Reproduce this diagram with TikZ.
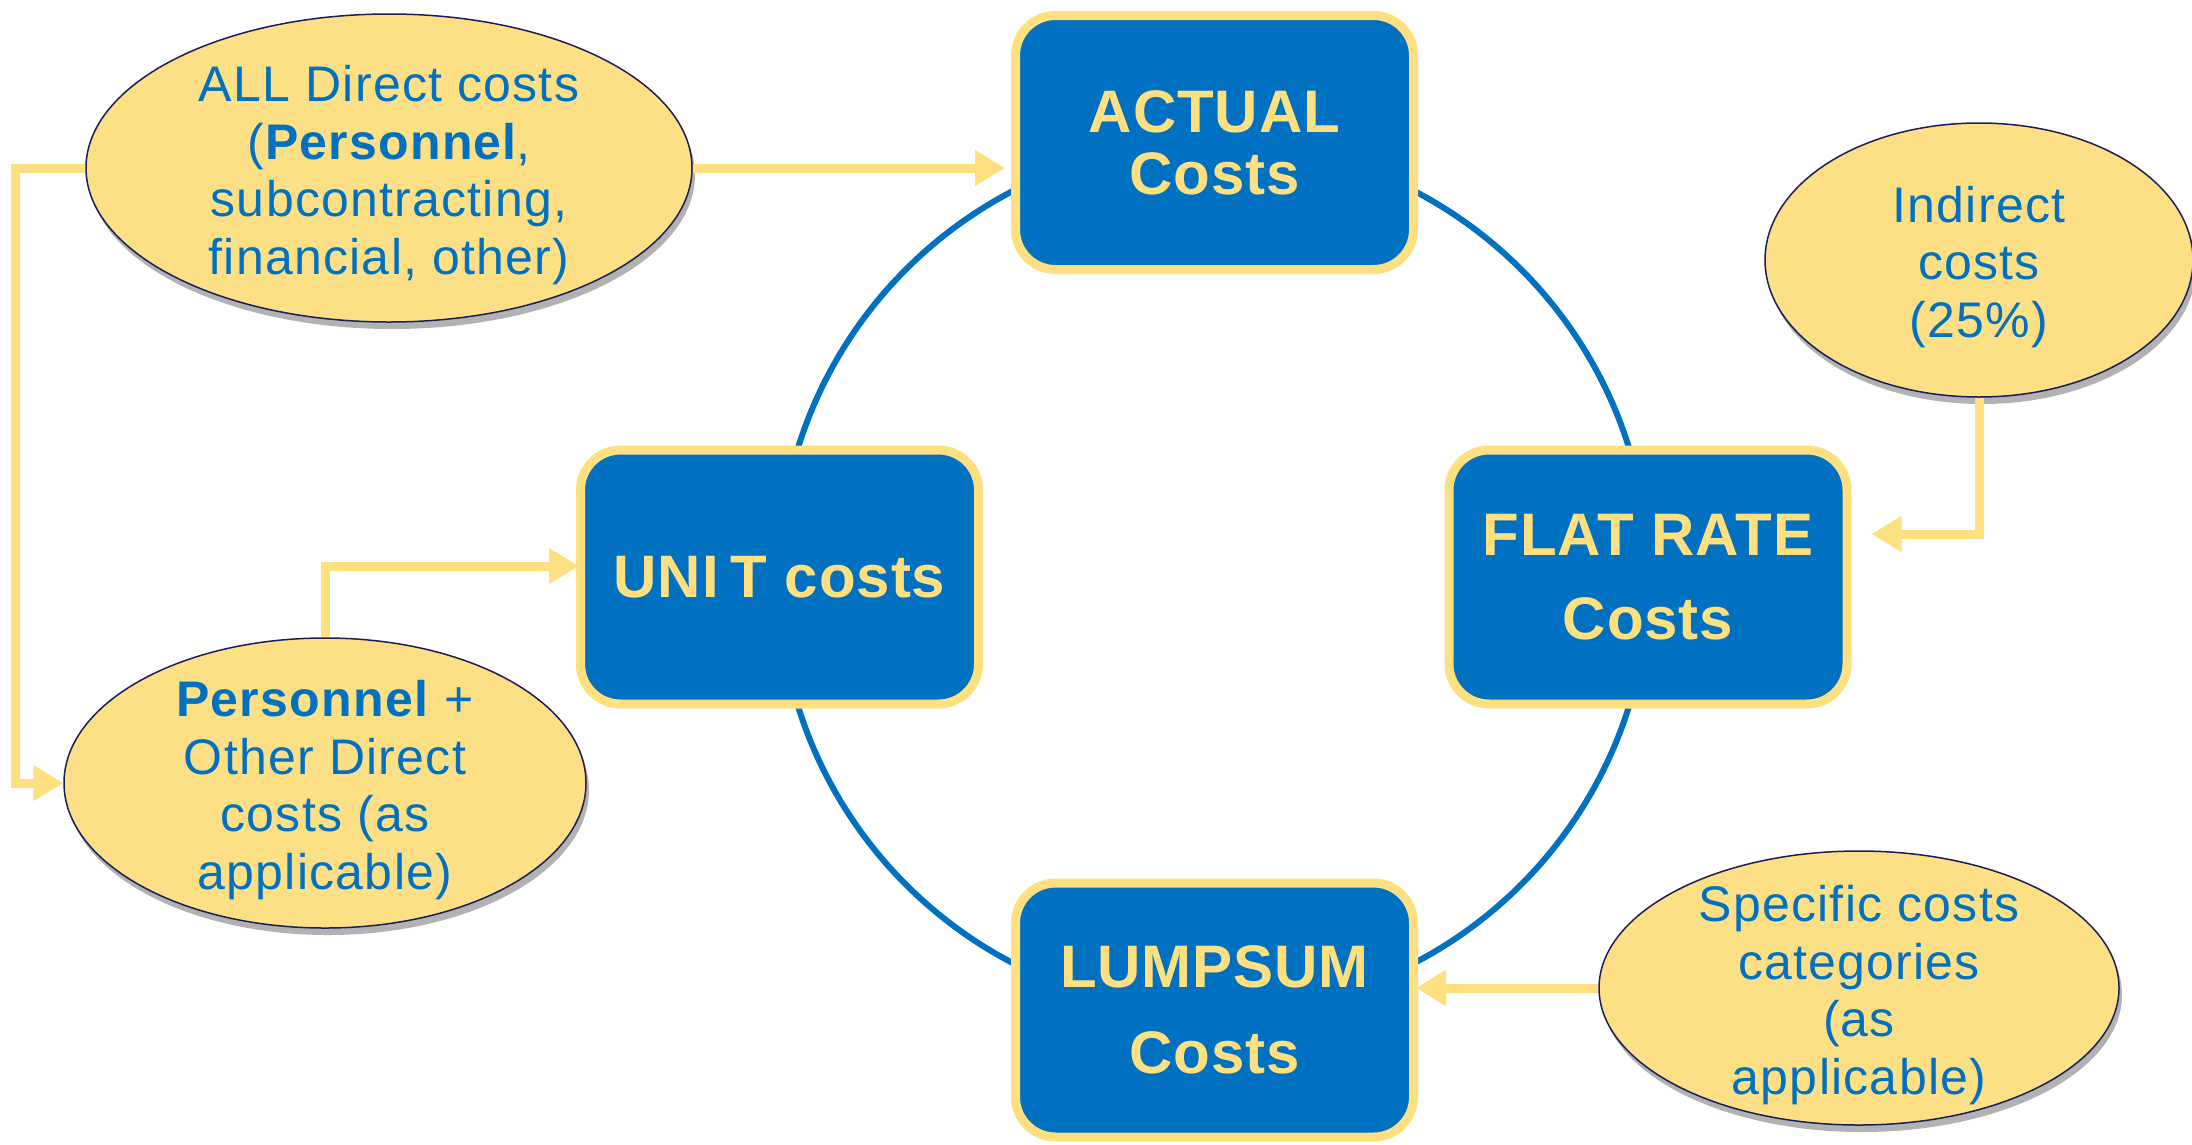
\documentclass[tikz,border=0pt]{standalone}
\usepackage{fontspec}
\setmainfont{Liberation Sans}
\newfontfamily\bubblefont[LetterSpace=2.5]{Liberation Sans}
\newfontfamily\boxfont[LetterSpace=1.5]{Liberation Sans}
\usetikzlibrary{shapes.geometric,arrows.meta,shadows}
\definecolor{boxblue}{RGB}{0,112,192}
\definecolor{ylw}{RGB}{255,224,128}
\definecolor{ellfill}{RGB}{253,224,133}
\definecolor{navy}{RGB}{25,30,90}
\newcommand{\toppad}{\rule{0pt}{50pt}}
\tikzset{
  costbox/.style={rectangle, rounded corners=40pt, fill=boxblue, draw=ylw, line width=9pt,
    minimum width=398pt, minimum height=254pt, text=ylw, align=center, inner sep=0pt},
  bubble/.style={ellipse, fill=ellfill, draw=navy, line width=1.5pt, text=boxblue, align=center,
    inner sep=-40pt, font=\bubblefont\fontsize{50}{57.5}\selectfont,
    drop shadow={shadow xshift=3pt, shadow yshift=-7pt, opacity=0.3, fill=black}},
  feed/.style={draw=ylw, line width=9pt, -{Triangle[width=34pt,length=30pt]}, line join=miter},
  ring/.style={draw=boxblue, line width=6pt}
}
\begin{document}
\begin{tikzpicture}[x=1pt,y=-1pt]
\fill[white] (0,0) rectangle (2192,1144);
\useasboundingbox (0,0) rectangle (2192,1144);

% ring
\coordinate (hub) at (1213.5,577);
\draw[ring] (hub) circle[radius=435pt];

% cost boxes
\node[costbox, font=\boxfont\fontsize{60}{62}\selectfont\bfseries] (actual) at (1214.5,142.5) {ACTUAL\\Costs};
\node[costbox, font=\boxfont\fontsize{60}{72}\selectfont\bfseries] (unit) at (779.5,577) {UNI\kern12pt T costs};
\node[costbox, font=\boxfont\fontsize{60}{84}\selectfont\bfseries] (flat) at (1648,577) {FLAT RATE\\Costs};
\node[costbox, font=\boxfont\fontsize{60}{86}\selectfont\bfseries] (lump) at (1214.5,1010) {LUMPSUM\\Costs};

% bubbles
\node[bubble, minimum width=606pt, minimum height=308pt] (e1) at (389,168)
  {\toppad ALL Direct costs\\(\textbf{Personnel},\\subcontracting,\\financial, other)};
\node[bubble, minimum width=428pt, minimum height=274pt] (e2) at (1979,260)
  {\toppad Indirect\\costs\\(25\%)};
\node[bubble, minimum width=522pt, minimum height=290pt] (e3) at (325,783)
  {\toppad\textbf{Personnel} +\\Other Direct\\costs (as\\applicable)};
\node[bubble, minimum width=520pt, minimum height=274pt] (e4) at (1859,988)
  {\toppad Specific costs\\categories\\(as\\applicable)};

% feeds
\draw[feed, shorten >=6pt] (e1.east) -- (e1.east -| actual.west);
\draw[feed] (e1.west) -- ++(-70,0) |- (e3.west);
\draw[feed, shorten >=-3pt] (e3.north) |- ([yshift=11pt]unit.west);
\draw[feed, shorten >=20pt] (e2.south) |- ([yshift=43pt]flat.east);
\draw[feed, shorten >=-2pt] (e4.west) -- (e4.west -| lump.east);
\end{tikzpicture}
\end{document}
